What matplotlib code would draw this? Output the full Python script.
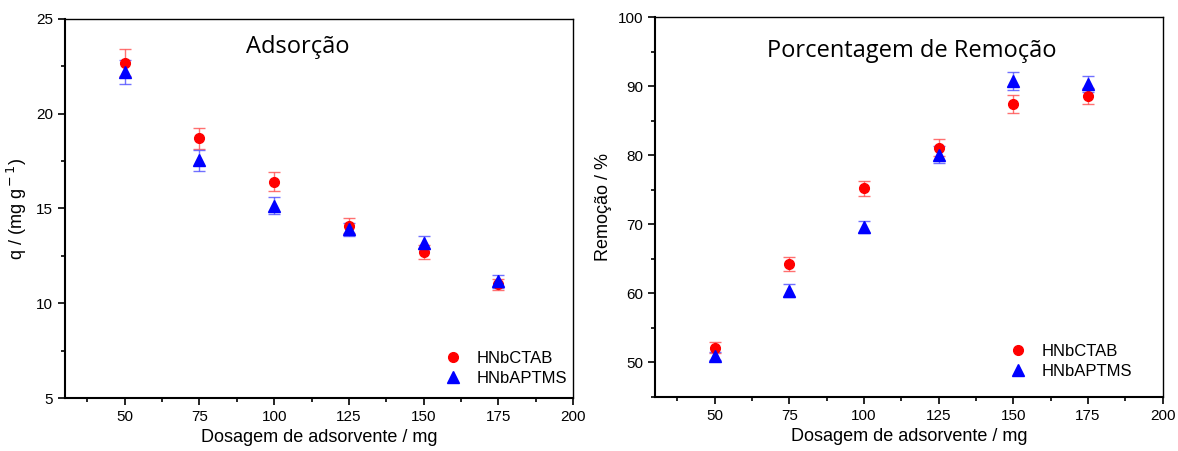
import numpy as np
import matplotlib
matplotlib.use('Agg')
import matplotlib.pyplot as plt
from matplotlib.ticker import MultipleLocator


dosagem = [50, 75, 100, 125, 150, 175]

q_ctab = [22.7, 18.7, 16.4, 14.1, 12.7, 11.0]
q_ctab_err = [0.7, 0.55, 0.5, 0.4, 0.35, 0.3]
q_aptms = [22.2, 17.55, 15.15, 13.9, 13.2, 11.15]
q_aptms_err = [0.65, 0.55, 0.45, 0.35, 0.35, 0.35]

rem_ctab = [52.1, 64.3, 75.2, 81.1, 87.4, 88.6]
rem_ctab_err = [0.8, 1.0, 1.1, 1.2, 1.3, 1.2]
rem_aptms = [50.9, 60.4, 69.6, 80.1, 90.8, 90.3]
rem_aptms_err = [0.6, 0.9, 0.9, 1.2, 1.3, 1.2]

plt.rcParams['font.family'] = ['Liberation Sans', 'DejaVu Sans']


def style_axes(ax, ymaj, ymin):
    ax.xaxis.set_major_locator(MultipleLocator(25))
    ax.xaxis.set_minor_locator(MultipleLocator(12.5))
    ax.yaxis.set_major_locator(MultipleLocator(ymaj))
    ax.yaxis.set_minor_locator(MultipleLocator(ymin))
    ax.tick_params(which='major', direction='out', length=5, width=1.2,
                   labelsize=11, top=False, right=False)
    ax.tick_params(which='minor', direction='out', length=3, width=1.2,
                   top=False, right=False)
    for s in ('left', 'bottom'):
        ax.spines[s].set_linewidth(1.5)
    for s in ('top', 'right'):
        ax.spines[s].set_linewidth(1.0)
    ax.set_xlabel('Dosagem de adsorvente / mg', fontsize=13)


def draw(ax, y1, e1, y2, e2, leg_pos):
    ax.errorbar(dosagem, y1, yerr=e1, fmt='none',
                ecolor=(1, 0.3, 0.3, 0.8), elinewidth=1, capsize=4, zorder=2)
    ax.errorbar(dosagem, y2, yerr=e2, fmt='none',
                ecolor=(0.3, 0.3, 1, 0.8), elinewidth=1, capsize=4, zorder=2)
    ax.plot(dosagem, y1, 'o', color='red', ms=7, label='HNbCTAB', zorder=3)
    ax.plot(dosagem, y2, '^', color='blue', ms=8, label='HNbAPTMS', zorder=4)
    ax.legend(loc='lower left', bbox_to_anchor=leg_pos, frameon=False,
              fontsize=12, handlelength=1, handletextpad=0.9,
              labelspacing=0.3, borderaxespad=0)


fig = plt.figure(figsize=(11.78, 4.51), dpi=100)
ax1 = fig.add_axes([0.0552, 0.1175, 0.4312, 0.8405])
ax2 = fig.add_axes([0.556, 0.12, 0.431, 0.842])

draw(ax1, q_ctab, q_ctab_err, q_aptms, q_aptms_err, (0.735, 0.015))
ax1.set_xlim(30, 200)
ax1.set_ylim(5, 25)
style_axes(ax1, 5, 2.5)
ax1.set_ylabel('q / (mg g$^{\\rm -1}$)', fontsize=13, labelpad=5)
ax1.text(0.459, 0.925, 'Adsorção', transform=ax1.transAxes, ha='center',
         va='center', fontsize=17, family=['Open Sans', 'DejaVu Sans'])

draw(ax2, rem_ctab, rem_ctab_err, rem_aptms, rem_aptms_err, (0.686, 0.03))
ax2.set_xlim(30, 200)
ax2.set_ylim(45, 100)
style_axes(ax2, 10, 5)
ax2.set_ylabel('Remoção / %', fontsize=13)
ax2.text(0.505, 0.91, 'Porcentagem de Remoção', transform=ax2.transAxes,
         ha='center', va='center', fontsize=17,
         family=['Open Sans', 'DejaVu Sans'])

fig.savefig('out.png', dpi=100)
